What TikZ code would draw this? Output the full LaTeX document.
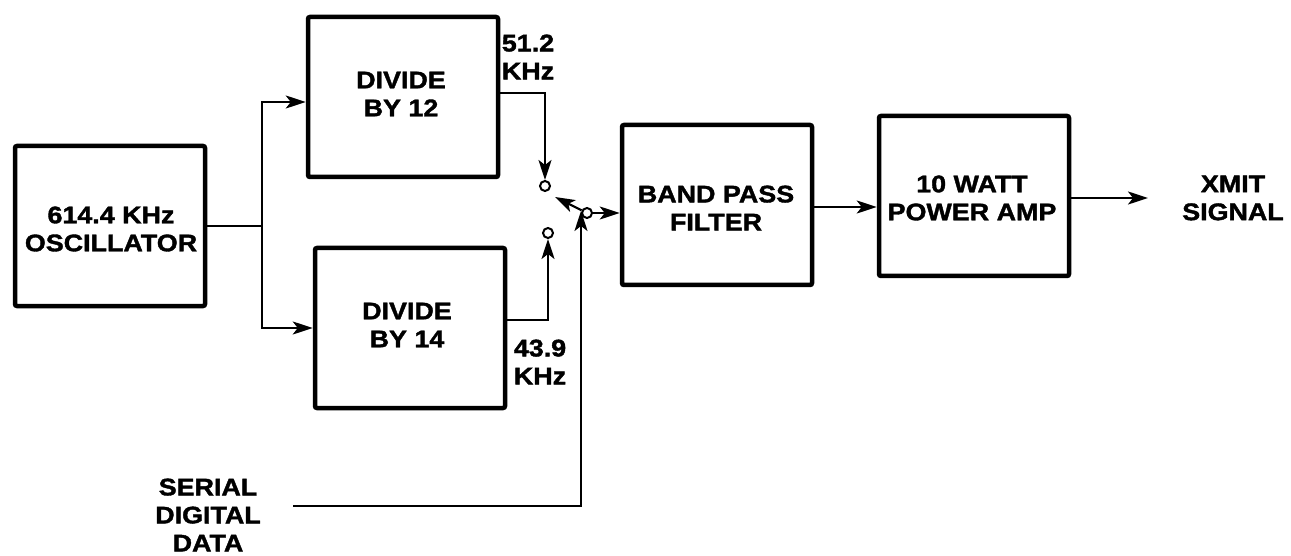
\documentclass[tikz,border=0pt]{standalone}
\usepackage{fontspec}
\setmainfont{Liberation Sans}[FakeStretch=1.12,FakeBold=1.6]
\usetikzlibrary{arrows.meta,calc}
\begin{document}
\begin{tikzpicture}[x=1pt,y=-1pt,
  txt/.style={font=\fontsize{24}{28}\selectfont\bfseries},
  blk/.style={draw,line width=4.5pt,rounded corners=2pt,minimum width=190pt,minimum height=160pt,inner sep=0pt,align=center,txt},
  lbl/.style={align=center,inner sep=0pt,txt},
  wire/.style={line width=2.2pt},
  arr/.style={wire,-{Stealth[length=20pt,width=13pt,inset=5pt]}},
  contact/.style={circle,draw,line width=2pt,fill=white,minimum size=10pt,inner sep=0pt}]
\useasboundingbox (0,0) rectangle (1291,556);
\node[blk] (osc) at (110,226) {};
\node[lbl] (osct) at (111,229) {614.4 KHz\\OSCILLATOR};
\node[blk] (d12) at (403,97) {};
\node[lbl] (d12t) at (401,94) {DIVIDE\\BY 12};
\node[blk] (d14) at (410,328) {};
\node[lbl] (d14t) at (407,325) {DIVIDE\\BY 14};
\node[blk] (bpf) at (717,205) {};
\node[lbl] (bpft) at (716,208) {BAND PASS\\FILTER};
\node[blk] (pa) at (974,196) {};
\node[lbl] (pat) at (972,198) {10 WATT\\POWER AMP};
\node[lbl] (k12) at (528,57) {51.2\\KHz};
\node[lbl] (k14) at (540,362) {43.9\\KHz};
\node[lbl] (xmit) at (1233,198) {XMIT\\SIGNAL};
\node[lbl] (sdd) at (208,515) {SERIAL\\DIGITAL\\DATA};
\node[contact] (c1) at (545,186) {};
\node[contact] (c2) at (548,233) {};
\node[contact] (pv) at (587,213) {};
\coordinate (J) at (262,226);
\coordinate (lev) at (555,197);
\coordinate (dend) at (581,211);
\coordinate (dstart) at (293,506);
% oscillator split
\draw[wire] (osc.east) -- (J);
\draw[arr] (J) |- ([yshift=-5pt]d12.west);
\draw[arr] (J) |- (d14.west);
% divider outputs to contacts
\draw[arr] ([yshift=4pt]d12.east) -| (c1.north);
\draw[arr] ([yshift=8pt]d14.east) -| (c2.south);
% switch lever
\draw[arr] (pv) -- (lev);
\draw[arr] (pv.east) -- (pv.east -| bpf.west);
% serial data
\draw[arr] (dstart) -| (dend);
% chain
\draw[arr] (bpf.east |- 0,207) -- (pa.west |- 0,207);
\draw[arr] (pa.east |- 0,198) -- (1148,198);
\end{tikzpicture}
\end{document}
